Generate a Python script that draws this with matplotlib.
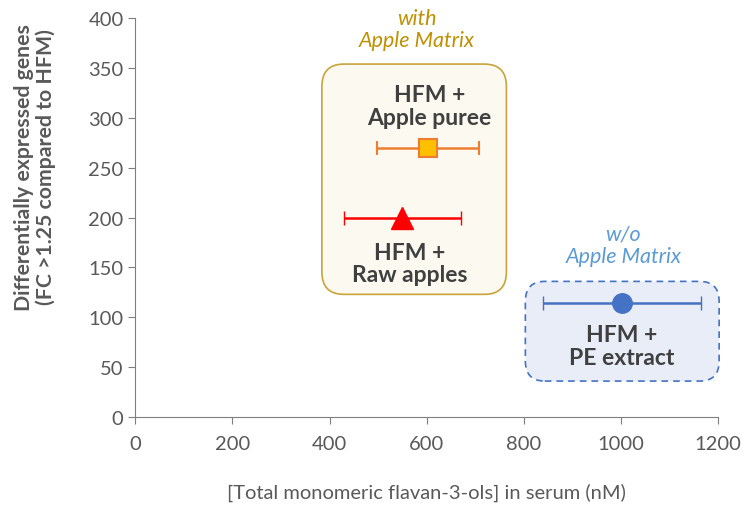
import numpy as np
import matplotlib.pyplot as plt
from matplotlib.patches import FancyBboxPatch

plt.rcParams['font.family'] = ['Lato', 'DejaVu Sans']

# data
groups = ['Apple puree', 'Raw apples', 'PE extract']
x_vals = [602, 550, 1002]
x_err = [105, 121, 162]
y_vals = [270, 200, 114]

fig, ax = plt.subplots(figsize=(7.52, 5.06), dpi=100)
fig.subplots_adjust(left=0.18, right=0.955, bottom=0.174, top=0.962)

# rounded group boxes
box1 = FancyBboxPatch((384, 123), 380, 231, boxstyle='round,pad=0,rounding_size=45',
                      mutation_aspect=0.5, fc='#FCF9F0', ec='#C9A43A', lw=1.2, zorder=1)
box2 = FancyBboxPatch((803, 36), 399, 100, boxstyle='round,pad=0,rounding_size=40',
                      mutation_aspect=0.5, fc='#E9EDF7', ec='#4472C4', lw=1.2,
                      ls=(0, (4, 3)), zorder=1, clip_on=False)
ax.add_patch(box1)
ax.add_patch(box2)

# points with horizontal error bars
ax.errorbar(x_vals[0], y_vals[0], xerr=x_err[0], fmt='s', ms=13, mfc='#FFC000',
            mec='#ED7D31', mew=1.5, ecolor='#ED7D31', elinewidth=1.8, capsize=5, zorder=3)
ax.errorbar(x_vals[1], y_vals[1], xerr=x_err[1], fmt='^', ms=16, mfc='#FF0000',
            mec='#FF0000', ecolor='#FF0000', elinewidth=1.8, capsize=5, zorder=3)
ax.errorbar(x_vals[2], y_vals[2], xerr=x_err[2], fmt='o', ms=14, mfc='#4472C4',
            mec='#4472C4', ecolor='#4472C4', elinewidth=1.8, capsize=5, zorder=3)

lab = dict(ha='center', va='center', fontsize=16.5, fontweight='bold', color='#404040',
           linespacing=1.1, zorder=4)
ax.text(605, 312, 'HFM +\nApple puree', **lab)
ax.text(565, 154, 'HFM +\nRaw apples', **lab)
ax.text(1002, 71, 'HFM +\nPE extract', **lab)

ax.text(580, 389, 'with\nApple Matrix', ha='center', va='center', fontsize=15.5,
        style='italic', color='#BF9000', linespacing=1.15, clip_on=False)
ax.text(1005, 173, 'w/o\nApple Matrix', ha='center', va='center', fontsize=15.5,
        style='italic', color='#5B9BD5', linespacing=1.15)

ax.set_xlim(0, 1200)
ax.set_ylim(0, 400)
ax.set_xticks(np.arange(0, 1201, 200))
ax.set_yticks(np.arange(0, 401, 50))

for s in ['top', 'right']:
    ax.spines[s].set_visible(False)
for s in ['left', 'bottom']:
    ax.spines[s].set_color('#7F7F7F')
ax.tick_params(colors='#7F7F7F', labelcolor='#595959', labelsize=14.5, length=5)
ax.tick_params(axis='x', pad=8)

ax.set_xlabel('[Total monomeric flavan-3-ols] in serum (nM)', fontsize=14.5,
              color='#595959', labelpad=22)
ax.set_ylabel('Differentially expressed genes\n(FC >1.25 compared to HFM)', fontsize=15.3,
              fontweight='bold', color='#595959', linespacing=1.05)
ax.yaxis.set_label_coords(-0.137, 0.628)

plt.savefig('out.png', dpi=100)
